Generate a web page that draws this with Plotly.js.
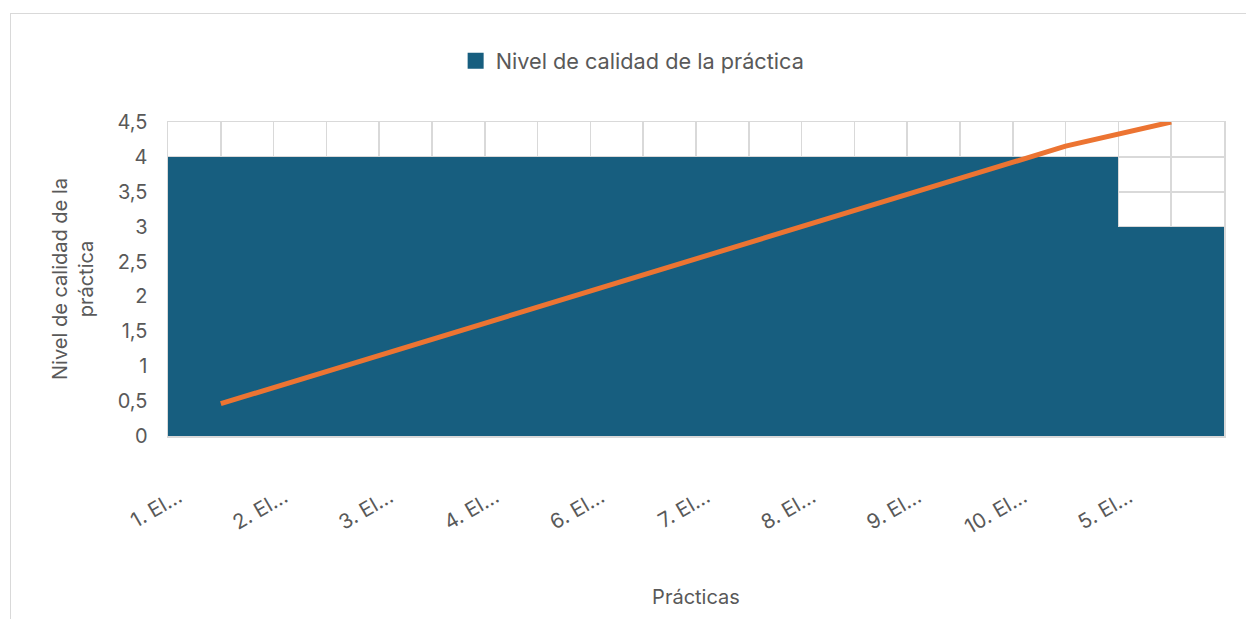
<!DOCTYPE html>
<html>
<head>
<meta charset="utf-8">
<script src="https://cdn.plot.ly/plotly-3.0.1.min.js"></script>
<style>
  html, body { margin: 0; padding: 0; background: #ffffff; }
  #wrap { position: relative; width: 1246px; height: 619px; overflow: hidden; }
  #chart { width: 1246px; height: 619px; }
  #frame { position: absolute; left: 10px; top: 13px; width: 1300px; height: 700px;
           border: 1.5px solid #d9d9d9; pointer-events: none; }
</style>
</head>
<body>
<div id="wrap">
  <div id="chart"></div>
  <div id="frame"></div>
</div>
<script>
// ---- data ----
const categories = ["1. El…", "2. El…", "3. El…", "4. El…", "6. El…", "7. El…", "8. El…", "9. El…", "10. El…", "5. El…"];
const qualityLevels = [4, 4, 4, 4, 4, 4, 4, 4, 4, 3];
const cumulativePct = [10.3, 20.5, 30.8, 41.0, 51.3, 61.5, 71.8, 82.1, 92.3, 100];
const yTickVals = [0, 0.5, 1, 1.5, 2, 2.5, 3, 3.5, 4, 4.5];

const seriesName = "Nivel de calidad de la práctica";
const positions = categories.map((c, i) => i + 1);
const labelShift = 0.4;
const halfSteps = [];
for (let i = 0; i <= categories.length * 2; i++) halfSteps.push(0.5 + i * 0.5);

const textColor = "#595959";
const gridColor = "#d9d9d9";
const barColor = "#175e7f";
const font = "Inter, 'Open Sans', sans-serif";

const traces = [
  {
    type: "bar",
    x: positions,
    y: qualityLevels,
    name: seriesName,
    width: 1,
    showlegend: false,
    marker: { color: barColor, line: { width: 0 } },
    hoverinfo: "y"
  },
  {
    // legend key for the bar series (larger square, as in the reference)
    type: "scatter",
    mode: "markers",
    x: [null],
    y: [null],
    name: seriesName,
    marker: { symbol: "square", size: 19, color: barColor },
    showlegend: true,
    hoverinfo: "skip"
  },
  {
    type: "scatter",
    mode: "lines",
    x: positions,
    y: cumulativePct,
    yaxis: "y2",
    showlegend: false,
    line: { color: "#ec7432", width: 5 },
    hoverinfo: "y"
  }
];

const layout = {
  width: 1246,
  height: 619,
  paper_bgcolor: "#ffffff",
  plot_bgcolor: "#ffffff",
  separators: ", ",
  font: { family: font, color: textColor, size: 20 },
  margin: { l: 168, r: 22, t: 122, b: 183 },
  showlegend: true,
  legend: {
    orientation: "h",
    x: 0.440, xanchor: "center",
    y: 1.194, yanchor: "middle",
    font: { size: 21.7, color: textColor },
    itemwidth: 30
  },
  xaxis: {
    range: [0.5, categories.length + 0.5],
    tickmode: "array",
    tickvals: positions.map(p => p - labelShift),
    ticktext: categories,
    tickangle: -30,
    ticks: "",
    showgrid: false,
    zeroline: false,
    showline: true,
    mirror: true,
    linecolor: gridColor,
    linewidth: 1.5,
    ticklabelstandoff: 40,
    tickfont: { size: 20.5, color: textColor },
    minor: { tickmode: "array", tickvals: halfSteps, showgrid: true, gridcolor: gridColor, gridwidth: 1.5, ticks: "" },
    title: { text: "Prácticas", font: { size: 20, color: textColor }, standoff: 52 },
    automargin: true
  },
  yaxis: {
    range: [0, 4.5],
    tickmode: "array",
    tickvals: yTickVals,
    showgrid: true,
    gridcolor: gridColor,
    gridwidth: 1.5,
    zeroline: false,
    showline: true,
    mirror: true,
    linecolor: gridColor,
    linewidth: 1.5,
    ticks: "",
    ticklabelstandoff: 15,
    tickfont: { size: 20, color: textColor },
    title: { text: "Nivel de calidad de la<br>práctica", font: { size: 20, color: textColor }, standoff: 18 },
    automargin: true
  },
  yaxis2: {
    overlaying: "y",
    side: "right",
    range: [0, 100],
    visible: false,
    showgrid: false
  },
  bargap: 0
};

Plotly.newPlot("chart", traces, layout, { displayModeBar: false, staticPlot: true });
</script>
</body>
</html>
